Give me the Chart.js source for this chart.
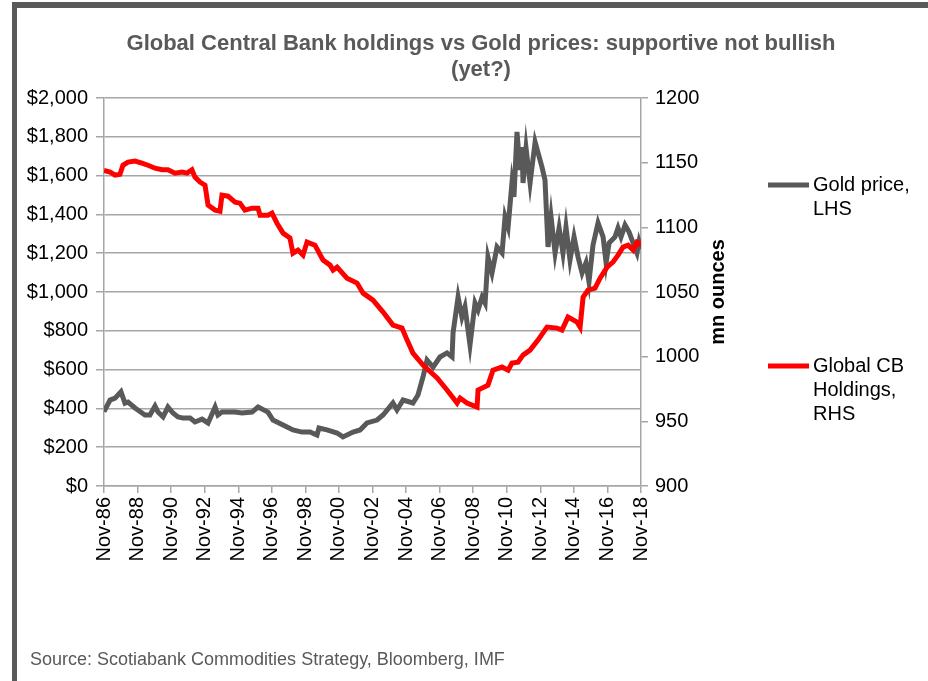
<!DOCTYPE html>
<html lang="en">
<head>
    <meta charset="UTF-8">
    <title>Central bank gold holdings vs gold price</title>
    <style>
        body { margin: 0; background: #fff; }
        #wrap { position: relative; width: 928px; height: 681px; overflow: hidden; }
        #topBar { position: absolute; left: 12px; top: 2px; width: 916px; height: 6px; background: #595959; }
        #leftBar { position: absolute; left: 12px; top: 2px; width: 5px; height: 679px; background: #595959; }
        #source { position: absolute; left: 30px; top: 649px; font: 18px "Liberation Sans", Arial, sans-serif; color: #595959; }
        canvas { position: absolute; left: 0; top: 0; }
    </style>
</head>
<body>
    <div id="wrap">
        <canvas id="myChart" width="928" height="681"></canvas>
        <div id="topBar"></div>
        <div id="leftBar"></div>
        <div id="source">Source: Scotiabank Commodities Strategy, Bloomberg, IMF</div>
    </div>

    <script src="https://cdn.jsdelivr.net/npm/chart.js"></script>

    <script>
        // x values are years after Nov-86
        const goldYears = [0, 0.36, 0.66, 1.01, 1.25, 1.43, 1.85, 2.44, 2.74, 3.04, 3.22, 3.52, 3.81, 4.11, 4.41, 4.71,
            5.13, 5.42, 5.84, 6.20, 6.62, 6.79, 7.03, 7.81, 8.22, 8.82, 9.18, 9.77, 10.07, 10.91, 11.26, 11.80,
            12.28, 12.69, 12.81, 13.29, 13.89, 14.24, 14.84, 15.26, 15.67, 16.27, 16.63, 17.22, 17.46, 17.82, 18.41,
            18.71, 19.01, 19.25, 19.61, 20.02, 20.44, 20.74, 20.80, 21.10, 21.33, 21.51, 21.81, 22.11, 22.29, 22.53,
            22.71, 22.88, 23.12, 23.42, 23.72, 23.90, 24.08, 24.31, 24.43, 24.61, 24.79, 24.91, 24.97, 25.15, 25.39,
            25.69, 26.10, 26.28, 26.46, 26.64, 26.88, 27.12, 27.35, 27.53, 27.77, 28.01, 28.25, 28.49, 28.72, 28.90,
            29.14, 29.44, 29.74, 29.92, 30.10, 30.45, 30.63, 30.81, 31.05, 31.29, 31.53, 31.76, 31.88, 32.0];
        const goldPrice = [383, 443, 453, 486, 427, 433, 402, 366, 366, 412, 381, 356, 407, 376, 356, 350,
            350, 330, 345, 325, 407, 366, 381, 381, 376, 381, 407, 381, 340, 304, 289, 278,
            278, 263, 299, 289, 273, 253, 278, 289, 325, 340, 366, 428, 392, 443, 428,
            469, 562, 649, 613, 665, 686, 665, 789, 974, 871, 923, 727, 943, 907, 974,
            943, 1180, 1098, 1232, 1201, 1387, 1335, 1562, 1490, 1825, 1629, 1747, 1562, 1742, 1562,
            1773, 1644, 1577, 1232, 1387, 1201, 1330, 1201, 1335, 1165, 1284, 1180, 1098, 1150, 1052,
            1242, 1356, 1284, 1150, 1253, 1284, 1330, 1284, 1345, 1309, 1253, 1201, 1258, 1220];

        const cbYears = [0, 0.36, 0.66, 0.95, 1.13, 1.43, 1.85, 2.26, 2.62, 3.04, 3.46, 3.81, 4.23, 4.65, 4.95,
            5.24, 5.42, 5.72, 6.02, 6.20, 6.62, 6.91, 7.03, 7.39, 7.81, 8.10, 8.40, 8.82, 9.18, 9.30, 9.77,
            10.01, 10.31, 10.67, 11.08, 11.26, 11.56, 11.86, 12.10, 12.57, 13.05, 13.47, 13.65, 13.89, 14.48,
            15.08, 15.44, 16.03, 16.63, 17.22, 17.76, 18.06, 18.41, 19.01, 19.85, 20.44, 21.04, 21.22, 21.63,
            22.23, 22.29, 22.88, 23.18, 23.72, 24.08, 24.31, 24.67, 24.97, 25.39, 25.86, 26.40, 27.00, 27.29,
            27.65, 28.19, 28.37, 28.55, 28.84, 29.26, 29.56, 29.98, 30.33, 30.63, 30.93, 31.23, 31.53, 31.76, 31.88, 32.0];
        const cbHoldings = [1144, 1142.7, 1140.3, 1141, 1148, 1150.4, 1151.2, 1149.6, 1148, 1145.7, 1144.5, 1144.5, 1141.9, 1142.7, 1141.9,
            1144.5, 1138.8, 1135, 1132.6, 1117.2, 1113.3, 1112.5, 1124.9, 1124.1, 1119.5, 1118.7, 1113.3, 1114.8, 1114.8, 1109.4, 1109.4,
            1111, 1103.2, 1095.5, 1091.7, 1080, 1082.4, 1078.5, 1088.6, 1086.2, 1074.7, 1070.8, 1066.9, 1069.2, 1060.7,
            1056.9, 1049.1, 1043.7, 1034.5, 1024.4, 1022.1, 1012.8, 1002.8, 993.5, 983.5, 974.2, 964.1, 968, 964.1,
            961, 974.2, 978, 989.6, 992, 989.6, 995, 995.8, 1001.2, 1005.1, 1012.8, 1022.9, 1022.1, 1020.6,
            1030.6, 1026.7, 1022.9, 1046.1, 1051.5, 1053, 1060.7, 1069.2, 1073.1, 1078.5, 1084.7, 1086.2, 1082.4, 1088.6, 1087.8, 1086];

        const titleLines = ['Global Central Bank holdings vs Gold prices: supportive not bullish', '(yet?)'];
        const goldLabel = ['Gold price,', 'LHS'];
        const cbLabel = ['Global CB', 'Holdings,', 'RHS'];

        const FONT = '"Liberation Sans", Arial, sans-serif';
        const GOLD = '#595959';
        const RED = '#FF0000';
        const GRID = '#A6A6A6';

        function toPoints(xs, ys) {
            return xs.map((x, i) => ({ x: x, y: ys[i] }));
        }

        // title, right axis title and legend (drawn by hand to match the layout)
        const sidePlugin = {
            id: 'sideText',
            afterDraw(chart) {
                const c = chart.ctx;
                const area = chart.chartArea;

                c.save();
                c.fillStyle = GOLD;
                c.font = 'bold 22px ' + FONT;
                c.textAlign = 'center';
                c.textBaseline = 'middle';
                titleLines.forEach((t, i) => c.fillText(t, 481, 44 + i * 26));
                c.restore();

                c.save();
                c.fillStyle = '#000';
                c.font = 'bold 20px ' + FONT;
                c.textAlign = 'center';
                c.textBaseline = 'middle';
                c.translate(718, (area.top + area.bottom) / 2);
                c.rotate(-Math.PI / 2);
                c.fillText('mn ounces', 0, 0);
                c.restore();

                c.save();
                c.font = '20px ' + FONT;
                c.textAlign = 'left';
                c.textBaseline = 'middle';
                c.lineWidth = 5;
                c.strokeStyle = GOLD;
                c.beginPath(); c.moveTo(768, 185); c.lineTo(809, 185); c.stroke();
                c.fillStyle = '#000';
                goldLabel.forEach((t, i) => c.fillText(t, 813, 185 + i * 24));
                c.strokeStyle = RED;
                c.beginPath(); c.moveTo(768, 366); c.lineTo(809, 366); c.stroke();
                cbLabel.forEach((t, i) => c.fillText(t, 813, 366 + i * 24));
                c.restore();
            }
        };

        const ctx = document.getElementById('myChart');

        new Chart(ctx, {
            type: 'line',
            data: {
                datasets: [{
                    label: 'Global CB Holdings, RHS',
                    data: toPoints(cbYears, cbHoldings),
                    borderColor: RED,
                    borderWidth: 5,
                    pointRadius: 0,
                    yAxisID: 'y1',
                    order: 1
                }, {
                    label: 'Gold price, LHS',
                    data: toPoints(goldYears, goldPrice),
                    borderColor: GOLD,
                    borderWidth: 5,
                    pointRadius: 0,
                    yAxisID: 'y',
                    order: 2
                }]
            },
            options: {
                responsive: false,
                animation: false,
                layout: { padding: { left: 0, right: 0, top: 98, bottom: 0 } },
                plugins: {
                    legend: { display: false },
                    tooltip: { enabled: false },
                    title: { display: false }
                },
                scales: {
                    x: {
                        type: 'linear',
                        min: 0,
                        max: 32,
                        afterFit(scale) { scale.height = 195; },
                        grid: { drawOnChartArea: false, color: GRID, lineWidth: 1.5, tickLength: 7 },
                        border: { color: GRID, width: 1.5 },
                        ticks: {
                            stepSize: 2,
                            autoSkip: false,
                            minRotation: 90,
                            maxRotation: 90,
                            padding: 4,
                            color: '#000',
                            font: { family: FONT, size: 20 },
                            callback: v => 'Nov-' + String((86 + v) % 100).padStart(2, '0')
                        }
                    },
                    y: {
                        position: 'left',
                        min: 0,
                        max: 2000,
                        afterFit(scale) { scale.width = 104; },
                        grid: { color: GRID, lineWidth: 1.5, tickLength: 8 },
                        border: { color: GRID, width: 1.5 },
                        ticks: {
                            stepSize: 200,
                            padding: 8,
                            color: '#000',
                            font: { family: FONT, size: 20 },
                            callback: v => '$' + v.toLocaleString('en-US')
                        }
                    },
                    y1: {
                        position: 'right',
                        min: 900,
                        max: 1200,
                        afterFit(scale) { scale.width = 287; },
                        grid: { drawOnChartArea: false, color: GRID, lineWidth: 1.5, tickLength: 7 },
                        border: { color: GRID, width: 1.5 },
                        ticks: {
                            stepSize: 50,
                            padding: 7,
                            color: '#000',
                            font: { family: FONT, size: 20 },
                            callback: v => String(v)
                        }
                    }
                }
            },
            plugins: [sidePlugin]
        });
    </script>
</body>
</html>
